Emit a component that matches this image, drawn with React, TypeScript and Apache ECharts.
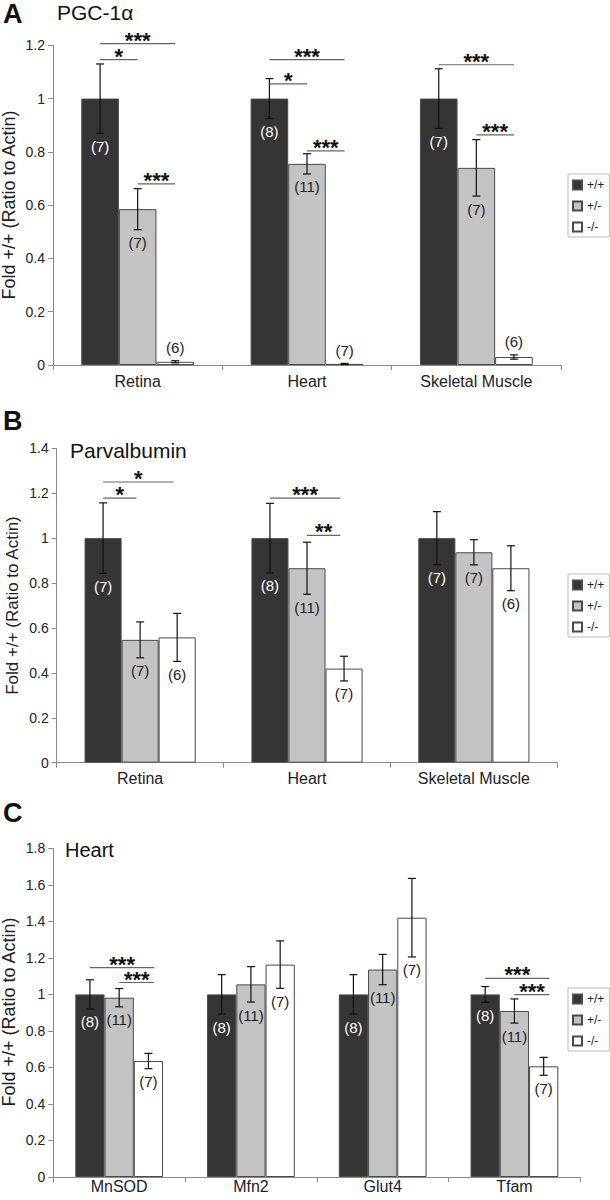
import React, { useEffect, useRef } from 'react';
import * as echarts from 'echarts';

const FONT = '"Liberation Sans", Arial, Helvetica, sans-serif';

const genotypes = ['+/+', '+/-', '-/-'];
const barColors = ['#353535', '#c3c3c3', '#ffffff'];

// ---------- Panel A : PGC-1α ----------
const catsA = ['Retina', 'Heart', 'Skeletal Muscle'];
const meanA_wt = [1.0, 1.0, 1.0];
const meanA_het = [0.585, 0.755, 0.74];
const meanA_ko = [0.012, 0.004, 0.03];
const seA_wt = [0.13, 0.075, 0.112];
const seA_het = [0.077, 0.038, 0.106];
const seA_ko = [0.004, 0.002, 0.008];
const nA_wt = [7, 8, 7];
const nA_het = [7, 11, 7];
const nA_ko = [6, 7, 6];
const aboveA_ko = [1, 1, 1];
// [category, fromBar, toBar, y, stars]
const bracketsA = [
  [0, 0, 2, 1.206, 3],
  [0, 0, 1, 1.146, 1],
  [0, 1, 2, 0.68, 3],
  [1, 0, 2, 1.146, 3],
  [1, 0, 1, 1.055, 1],
  [1, 1, 2, 0.804, 3],
  [2, 0, 2, 1.127, 3],
  [2, 1, 2, 0.864, 3],
];

// ---------- Panel B : Parvalbumin ----------
const catsB = ['Retina', 'Heart', 'Skeletal Muscle'];
const meanB_wt = [1.0, 1.0, 1.0];
const meanB_het = [0.547, 0.866, 0.937];
const meanB_ko = [0.558, 0.419, 0.866];
const seB_wt = [0.157, 0.155, 0.118];
const seB_het = [0.08, 0.116, 0.056];
const seB_ko = [0.107, 0.055, 0.1];
const nB_wt = [7, 8, 7];
const nB_het = [7, 11, 7];
const nB_ko = [6, 7, 6];
const bracketsB = [
  [0, 0, 2, 1.25, 1],
  [0, 0, 1, 1.178, 1],
  [1, 0, 2, 1.178, 3],
  [1, 1, 2, 1.012, 2],
];

// ---------- Panel C : Heart ----------
const catsC = ['MnSOD', 'Mfn2', 'Glut4', 'Tfam'];
const meanC_wt = [1.0, 1.0, 1.0, 1.0];
const meanC_het = [0.982, 1.055, 1.136, 0.909];
const meanC_ko = [0.635, 1.163, 1.42, 0.606];
const seC_wt = [0.08, 0.108, 0.108, 0.043];
const seC_het = [0.05, 0.097, 0.083, 0.066];
const seC_ko = [0.042, 0.13, 0.215, 0.049];
const nC_wt = [8, 8, 8, 8];
const nC_het = [11, 11, 11, 11];
const nC_ko = [7, 7, 7, 7];
const bracketsC = [
  [0, 0, 2, 1.147, 3],
  [0, 1, 2, 1.065, 3],
  [3, 0, 2, 1.088, 3],
  [3, 1, 2, 0.999, 3],
];

const BAR_FRAC = 0.222;

type PanelDef = {
  cats: string[];
  means: number[][];
  ses: number[][];
  ns: number[][];
  above: number[][];
  brackets: number[][];
  yMax: number;
  grid: { left: number; top: number; width: number; height: number };
  legendTop: number;
  labelMargin: number;
  bracketEnd: number;
};

const panels: PanelDef[] = [
  {
    cats: catsA,
    means: [meanA_wt, meanA_het, meanA_ko],
    ses: [seA_wt, seA_het, seA_ko],
    ns: [nA_wt, nA_het, nA_ko],
    above: [[0, 0, 0], [0, 0, 0], aboveA_ko],
    brackets: bracketsA,
    yMax: 1.2,
    grid: { left: 53, top: 45.3, width: 508, height: 319.7 },
    legendTop: 174,
    labelMargin: 8,
    bracketEnd: 0,
  },
  {
    cats: catsB,
    means: [meanB_wt, meanB_het, meanB_ko],
    ses: [seB_wt, seB_het, seB_ko],
    ns: [nB_wt, nB_het, nB_ko],
    above: [[0, 0, 0], [0, 0, 0], [0, 0, 0]],
    brackets: bracketsB,
    yMax: 1.4,
    grid: { left: 56.7, top: 448.3, width: 500.6, height: 314.4 },
    legendTop: 574,
    labelMargin: 8,
    bracketEnd: -0.1,
  },
  {
    cats: catsC,
    means: [meanC_wt, meanC_het, meanC_ko],
    ses: [seC_wt, seC_het, seC_ko],
    ns: [nC_wt, nC_het, nC_ko],
    above: [[0, 0, 0, 0], [0, 0, 0, 0], [0, 0, 0, 0]],
    brackets: bracketsC,
    yMax: 1.8,
    grid: { left: 53.3, top: 848.3, width: 527, height: 328.7 },
    legendTop: 988,
    labelMargin: 1,
    bracketEnd: 0.2,
  },
];

function errorRenderItem(params: any, api: any) {
  const cat = api.value(0);
  const mean = api.value(1);
  const se = api.value(2);
  const bar = api.value(3);
  const n = api.value(4);
  const above = api.value(5);
  const band = api.size([1, 0])[0];
  const bw = band * BAR_FRAC;
  const c = api.coord([cat, mean]);
  const x = c[0] + (bar - 1) * bw;
  const yTop = api.coord([cat, mean + se])[1];
  const yBot = api.coord([cat, mean - se])[1];
  const cap = 4;
  const ls = { stroke: '#111', lineWidth: 1.2 };
  const labelY = above ? yTop - 13 : yBot + 13;
  return {
    type: 'group',
    children: [
      { type: 'line', shape: { x1: x, y1: yTop, x2: x, y2: yBot }, style: ls },
      { type: 'line', shape: { x1: x - cap, y1: yTop, x2: x + cap, y2: yTop }, style: ls },
      { type: 'line', shape: { x1: x - cap, y1: yBot, x2: x + cap, y2: yBot }, style: ls },
      {
        type: 'text',
        x: x,
        y: labelY,
        style: {
          text: '(' + n + ')',
          fill: bar === 0 ? '#ffffff' : '#222',
          fontSize: 15,
          fontFamily: FONT,
          textAlign: 'center',
          textVerticalAlign: 'middle',
        },
      },
    ],
  };
}

function makeBracketRender(endFrac: number) {
  return function (params: any, api: any) {
    const cat = api.value(0);
    const from = api.value(1);
    const to = api.value(2);
    const yv = api.value(3);
    const stars = api.value(4);
    const band = api.size([1, 0])[0];
    const bw = band * BAR_FRAC;
    const c = api.coord([cat, yv]);
    const x1 = c[0] + (from - 1) * bw;
    const x2 = c[0] + (to - 1) * bw + endFrac * bw;
    const y = c[1];
    return {
      type: 'group',
      children: [
        { type: 'line', shape: { x1, y1: y, x2, y2: y }, style: { stroke: '#666', lineWidth: 1.2 } },
        {
          type: 'text',
          x: (x1 + x2) / 2,
          y: y - 3.5,
          style: {
            text: '*'.repeat(stars),
            fill: '#111',
            fontSize: 22,
            fontWeight: 'bold',
            lineHeight: 10,
            fontFamily: FONT,
            textAlign: 'center',
            textVerticalAlign: 'middle',
          },
        },
      ],
    };
  };
}

function buildOption() {
  const grid: any[] = [];
  const xAxis: any[] = [];
  const yAxis: any[] = [];
  const series: any[] = [];
  const legend: any[] = [];

  panels.forEach((p, pi) => {
    grid.push({ ...p.grid, containLabel: false });
    xAxis.push({
      type: 'category',
      gridIndex: pi,
      data: p.cats,
      boundaryGap: true,
      axisLine: { show: true, lineStyle: { color: '#8a8a8a', width: 1 } },
      axisTick: { show: true, length: 5, alignWithLabel: false, lineStyle: { color: '#8a8a8a' } },
      axisLabel: { fontSize: 16, color: '#222', margin: p.labelMargin, fontFamily: FONT },
      splitLine: { show: false },
    });
    yAxis.push({
      type: 'value',
      gridIndex: pi,
      min: 0,
      max: p.yMax,
      interval: 0.2,
      axisLine: { show: true, lineStyle: { color: '#8a8a8a', width: 1 } },
      axisTick: { show: true, length: 5, lineStyle: { color: '#8a8a8a' } },
      axisLabel: { fontSize: 14, color: '#222', margin: 8, fontFamily: FONT },
      splitLine: { show: false },
    });
    genotypes.forEach((g, gi) => {
      series.push({
        type: 'bar',
        name: g,
        xAxisIndex: pi,
        yAxisIndex: pi,
        data: p.means[gi],
        barWidth: (BAR_FRAC * 100).toFixed(1) + '%',
        barGap: '0%',
        itemStyle: { color: barColors[gi], borderColor: '#4a4a4a', borderWidth: 1 },
        emphasis: { disabled: true },
      });
    });
    const errData: number[][] = [];
    genotypes.forEach((g, gi) => {
      p.cats.forEach((c, ci) => {
        errData.push([ci, p.means[gi][ci], p.ses[gi][ci], gi, p.ns[gi][ci], p.above[gi][ci]]);
      });
    });
    series.push({
      type: 'custom',
      xAxisIndex: pi,
      yAxisIndex: pi,
      renderItem: errorRenderItem,
      data: errData,
      encode: { x: 0, y: 1 },
      z: 5,
      silent: true,
    });
    series.push({
      type: 'custom',
      xAxisIndex: pi,
      yAxisIndex: pi,
      renderItem: makeBracketRender(p.bracketEnd),
      data: p.brackets,
      encode: { x: 0, y: 3 },
      z: 5,
      silent: true,
    });
    legend.push({
      data: genotypes,
      orient: 'vertical',
      left: 568,
      top: p.legendTop,
      icon: 'rect',
      itemWidth: 9,
      itemHeight: 9,
      itemGap: 9,
      padding: [5, 5, 4, 4],
      borderColor: '#bbbbbb',
      borderWidth: 1,
      selectedMode: false,
      textStyle: { fontSize: 12, color: '#222', fontFamily: FONT, lineHeight: 12 },
    });
  });

  const yTitle = (x: number, y: number, size: number) => ({
    type: 'text',
    x,
    y,
    rotation: Math.PI / 2,
    style: {
      text: 'Fold +/+ (Ratio to Actin)',
      fontSize: size,
      fontFamily: FONT,
      fill: '#222',
      textAlign: 'center',
      textVerticalAlign: 'middle',
    },
  });
  const txt = (text: string, x: number, y: number, size: number, bold = false) => ({
    type: 'text',
    x,
    y,
    style: {
      text,
      fontSize: size,
      fontWeight: bold ? 'bold' : 'normal',
      fontFamily: FONT,
      fill: '#111',
      textAlign: 'left',
      textVerticalAlign: 'middle',
    },
  });

  return {
    animation: false,
    backgroundColor: '#ffffff',
    grid,
    xAxis,
    yAxis,
    legend,
    series,
    graphic: [
      txt('A', 3, 14, 27, true),
      txt('PGC-1α', 57, 12.5, 21),
      txt('B', 3, 421, 27, true),
      txt('Parvalbumin', 70, 450, 21),
      txt('C', 3, 812.5, 27, true),
      txt('Heart', 65, 849.5, 20),
      yTitle(9, 205, 18),
      yTitle(12, 605.5, 17),
      yTitle(9, 1012, 18),
    ],
  };
}

export default function App() {
  const ref = useRef<HTMLDivElement>(null);
  useEffect(() => {
    document.body.style.margin = '0';
    if (!ref.current) return;
    const chart = echarts.init(ref.current, null, { renderer: 'svg' });
    chart.setOption(buildOption() as any);
    return () => {
      chart.dispose();
    };
  }, []);
  return <div ref={ref} style={{ width: 610, height: 1200 }} />;
}
